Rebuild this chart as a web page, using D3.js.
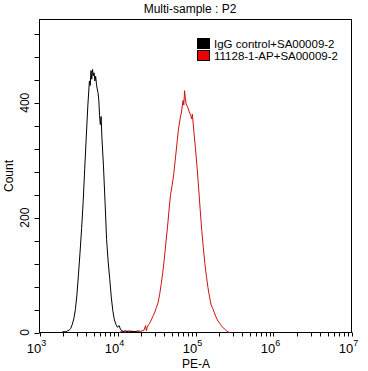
<!DOCTYPE html>
<html>
<head>
<meta charset="utf-8">
<script src="https://cdn.jsdelivr.net/npm/d3@7"></script>
<style>
  body { margin: 0; background: #fff; }
  svg { display: block; font-family: "Liberation Sans", Arial, sans-serif; }
</style>
</head>
<body>
<svg id="chart" width="368" height="371"></svg>
<script>
// log10(PE-A) bin positions and counts
const iggLog = [3.28, 3.30, 3.32, 3.34, 3.36, 3.38, 3.40, 3.42, 3.44, 3.46, 3.48, 3.50, 3.52, 3.54, 3.56, 3.58, 3.60, 3.62, 3.64, 3.65, 3.66, 3.67, 3.68, 3.69, 3.70, 3.71, 3.72, 3.73, 3.74, 3.75, 3.76, 3.77, 3.78, 3.79, 3.80, 3.82, 3.84, 3.86, 3.88, 3.90, 3.92, 3.94, 3.96, 3.98, 4.00, 4.02, 4.04, 4.06, 4.08, 4.10, 4.14, 4.20, 4.26, 4.30];
const iggCount = [0, 1, 2, 1, 3, 4, 7, 14, 24, 40, 66, 102, 140, 181, 228, 286, 342, 396, 438, 430, 456, 441, 458, 447, 452, 438, 446, 433, 424, 418, 405, 378, 362, 376, 340, 290, 228, 162, 124, 94, 62, 38, 22, 14, 9, 12, 5, 3, 2, 3, 1, 2, 1, 0];

const abLog = [4.02, 4.06, 4.10, 4.14, 4.18, 4.22, 4.26, 4.30, 4.34, 4.36, 4.37, 4.38, 4.40, 4.42, 4.44, 4.46, 4.48, 4.50, 4.52, 4.54, 4.56, 4.58, 4.60, 4.62, 4.64, 4.66, 4.68, 4.70, 4.72, 4.74, 4.76, 4.78, 4.80, 4.82, 4.84, 4.85, 4.86, 4.87, 4.88, 4.90, 4.92, 4.94, 4.95, 4.96, 4.98, 5.00, 5.02, 5.04, 5.06, 5.08, 5.10, 5.12, 5.14, 5.16, 5.18, 5.20, 5.22, 5.24, 5.26, 5.28, 5.30, 5.32, 5.34, 5.36, 5.38, 5.40, 5.42, 5.44];
const abCount = [0, 2, 1, 3, 2, 1, 3, 2, 4, 12, 3, 9, 14, 18, 24, 30, 36, 44, 52, 66, 84, 104, 128, 156, 182, 212, 240, 256, 275, 300, 326, 352, 370, 384, 404, 396, 421, 408, 398, 392, 384, 378, 372, 380, 348, 320, 288, 252, 214, 178, 148, 120, 98, 78, 62, 48, 42, 35, 28, 22, 18, 14, 10, 8, 5, 3, 1, 0];

const seriesNames = ["IgG control+SA00009-2", "11128-1-AP+SA00009-2"];
const seriesColors = ["#000000", "#cc1111"];
const legendFill = ["#000000", "#ee0000"];
const yLabels = [0, 200, 400];
const xDecades = [3, 4, 5, 6, 7];

const svg = d3.select("#chart");
const mLeft = 39.5, mRight = 351.5, mTop = 19.5, mBottom = 332.5;

const x = d3.scaleLog().domain([1e3, 1e7]).range([mLeft, mRight]);
const y = d3.scaleLinear().domain([0, 545]).range([mBottom, mTop]);

// 图框
svg.append("rect")
  .attr("x", mLeft).attr("y", mTop)
  .attr("width", mRight - mLeft).attr("height", mBottom - mTop)
  .attr("fill", "none").attr("stroke", "#000").attr("stroke-width", 1);

// x ticks: decades + minor
const xTicks = [];
for (let e = 3; e < 7; e++) for (let m = 1; m < 10; m++) xTicks.push(m * Math.pow(10, e));
xTicks.push(1e7);
svg.append("g").selectAll("line").data(xTicks).join("line")
  .attr("x1", d => Math.round(x(d)) + 0.5).attr("x2", d => Math.round(x(d)) + 0.5)
  .attr("y1", mBottom).attr("y2", mBottom + 4)
  .attr("stroke", "#000");

const xl = svg.append("g").selectAll("text").data(xDecades).join("text")
  .attr("x", d => x(Math.pow(10, d)) - 3)
  .attr("y", 353)
  .attr("text-anchor", "middle")
  .attr("font-size", 13);
xl.append("tspan").text("10");
xl.append("tspan").attr("dy", -7).attr("font-size", 9).text(d => d);

// y ticks every 40
const yTicks = d3.range(0, 521, 40);
svg.append("g").selectAll("line").data(yTicks).join("line")
  .attr("x1", mLeft - 5).attr("x2", mLeft)
  .attr("y1", d => Math.round(y(d)) + 0.5).attr("y2", d => Math.round(y(d)) + 0.5)
  .attr("stroke", "#000");

svg.append("g").selectAll("text").data(yLabels).join("text")
  .attr("transform", d => `translate(29,${y(d)}) rotate(-90)`)
  .attr("text-anchor", "middle")
  .attr("font-size", 12)
  .text(d => d);

svg.append("text")
  .attr("transform", `translate(13,${(mTop + mBottom) / 2}) rotate(-90)`)
  .attr("text-anchor", "middle").attr("font-size", 12)
  .text("Count");

svg.append("text")
  .attr("x", 196).attr("y", 368)
  .attr("text-anchor", "middle").attr("font-size", 12)
  .text("PE-A");

svg.append("text")
  .attr("x", 190).attr("y", 13)
  .attr("text-anchor", "middle").attr("font-size", 12)
  .text("Multi-sample : P2");

// histograms
const line = d3.line()
  .x(d => x(Math.pow(10, d[0])))
  .y(d => y(d[1]));

svg.append("path")
  .datum(d3.zip(abLog, abCount))
  .attr("d", line)
  .attr("fill", "none").attr("stroke", seriesColors[1]).attr("stroke-width", 1);

svg.append("path")
  .datum(d3.zip(iggLog, iggCount))
  .attr("d", line)
  .attr("fill", "none").attr("stroke", seriesColors[0]).attr("stroke-width", 1);

// legend
const lg = svg.append("g").selectAll("g").data(seriesNames).join("g")
  .attr("transform", (d, i) => `translate(197,${38 + i * 12})`);
lg.append("rect")
  .attr("x", 0.5).attr("y", 0.5).attr("width", 12).attr("height", 10)
  .attr("fill", (d, i) => legendFill[i]).attr("stroke", "#000");
lg.append("text")
  .attr("x", 17).attr("y", 10)
  .attr("font-size", 11.5)
  .text(d => d);
</script>
</body>
</html>
